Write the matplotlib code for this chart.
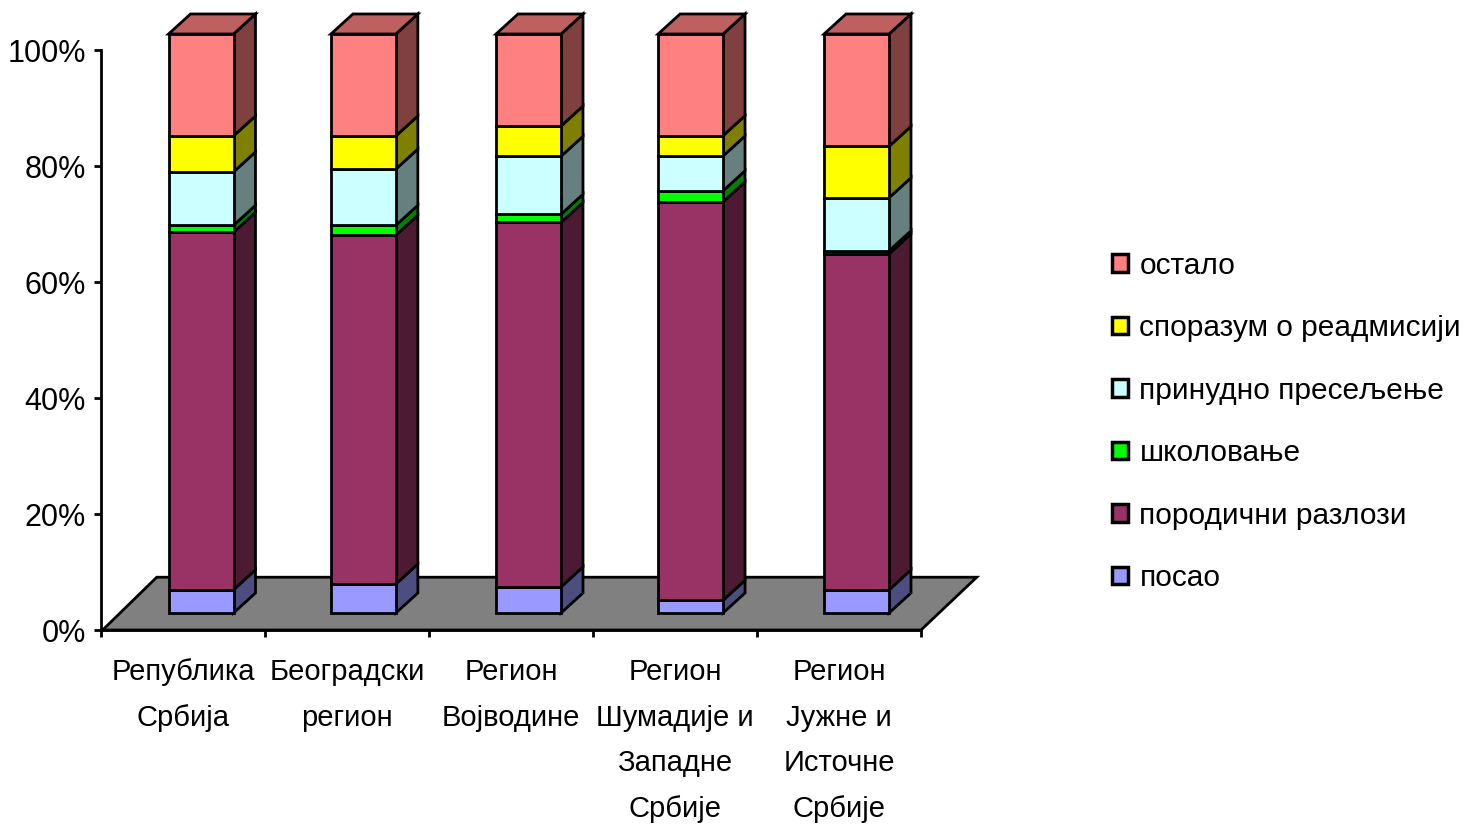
import numpy as np
import matplotlib
matplotlib.use("Agg")
import matplotlib.pyplot as plt
from matplotlib.patches import Patch

plt.rcParams["font.family"] = ["Liberation Sans", "DejaVu Sans"]

regions = ["Република\nСрбија", "Београдски\nрегион", "Регион\nВојводине",
           "Регион\nШумадије и\nЗападне\nСрбије", "Регион\nЈужне и\nИсточне\nСрбије"]
names = ["посао", "породични разлози", "школовање", "принудно пресељење",
         "споразум о реадмисији", "остало"]

posao = [4.0, 5.0, 4.5, 2.2, 4.0]
porodicni = [61.65, 60.15, 62.85, 68.7, 57.9]
skolovanje = [1.2, 1.7, 1.4, 1.9, 0.55]
prinudno = [9.2, 9.7, 10.0, 6.0, 9.15]
sporazum = [6.2, 5.7, 5.2, 3.5, 8.85]
ostalo = [17.58, 17.58, 15.88, 17.53, 19.38]

front = ["#9999FF", "#993366", "#00FF00", "#CCFFFF", "#FFFF00", "#FF8080"]
side = ["#4D4D80", "#4D1A33", "#008000", "#668080", "#808000", "#804040"]
top_col = "#BF6060"

base = 2.93
bar_w = 0.396
shift = [0.11, 0.10, 0.107, 0.095, 0.107]
dx, dy = 0.134, 3.45

fig = plt.figure(figsize=(14.66, 8.25), dpi=100)
ax = fig.add_axes([101 / 1466, 195 / 825, 820 / 1466, 580 / 825])
ax.set_xlim(-0.5, 4.5)
ax.set_ylim(0, 100)

# floor of the 3d box
ax.fill([-0.49, 4.5, 4.84, -0.16], [0, 0, 9.1, 9.1], facecolor="#808080",
        edgecolor="black", lw=2, clip_on=False, zorder=1)

x = np.arange(5) + np.array(shift)
bottom = np.full(5, base)
for vals, fc, sc in zip([posao, porodicni, skolovanje, prinudno, sporazum, ostalo], front, side):
    vals = np.array(vals)
    ax.bar(x, vals, bar_w, bottom=bottom, color=fc, edgecolor="black", lw=2,
           clip_on=False, zorder=3)
    for xi, b, v in zip(x, bottom, vals):
        r = xi + bar_w / 2
        ax.fill([r, r + dx, r + dx, r], [b, b + dy, b + v + dy, b + v], facecolor=sc,
                edgecolor="black", lw=2, clip_on=False, zorder=2)
    bottom = bottom + vals

# tops of the bars
for xi, t in zip(x, bottom):
    l, r = xi - bar_w / 2, xi + bar_w / 2
    ax.fill([l, r, r + dx, l + dx], [t, t, t + dy, t + dy], facecolor=top_col,
            edgecolor="black", lw=2, clip_on=False, zorder=2)

for s in ["top", "right"]:
    ax.spines[s].set_visible(False)
ax.spines["left"].set_linewidth(2)
ax.spines["bottom"].set_linewidth(2)
ax.set_yticks(range(0, 101, 20))
ax.set_yticklabels([f"{v}%" for v in range(0, 101, 20)], fontsize=22)
ax.tick_params(axis="y", length=5, width=2, pad=6)
ax.set_xticks(np.arange(-0.5, 5, 1))
ax.set_xticklabels([])
ax.tick_params(axis="x", which="major", length=5, width=2)
ax.set_xticks(np.arange(5), minor=True)
ax.set_xticklabels(regions, minor=True, fontsize=21, linespacing=1.81)
ax.tick_params(axis="x", which="minor", length=0, pad=20)

handles = [Patch(facecolor=c, edgecolor="black", lw=2.5) for c in front]
ax.legend(handles[::-1], names[::-1], loc="center left", bbox_to_anchor=(1112 / 1466, 403 / 825),
          bbox_transform=fig.transFigure, frameon=False, fontsize=21.5, handlelength=0.52,
          handleheight=0.52, handletextpad=0.4, labelspacing=1.155, borderpad=0, borderaxespad=0)

fig.savefig("out.png", dpi=100)
